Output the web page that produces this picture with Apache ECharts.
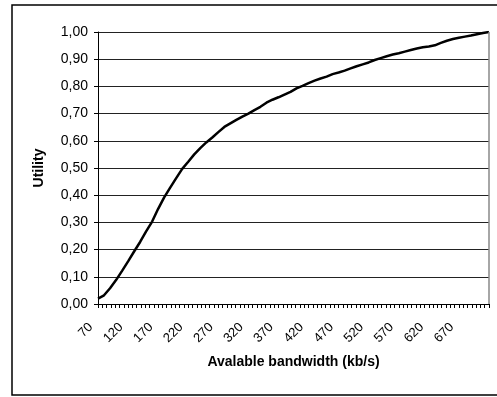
<!DOCTYPE html>
<html>
<head>
<meta charset="utf-8">
<script src="https://cdn.jsdelivr.net/npm/echarts@6/dist/echarts.min.js"></script>
<style>
  html, body { margin: 0; padding: 0; background: #fff; }
  #chart { width: 497px; height: 397px; }
</style>
</head>
<body>
<div id="chart"></div>
<script>
// Available bandwidth (kb/s) and the utility reached at that bandwidth
const bandwidth = [70, 80, 90, 100, 110, 120, 130, 140, 150, 160, 170, 180, 190, 200, 210,
  220, 230, 240, 250, 260, 270, 280, 290, 300, 310, 320, 330, 340, 350, 360, 370, 380,
  390, 400, 410, 420, 430, 440, 450, 460, 470, 480, 490, 500, 510, 520, 530, 540, 550,
  560, 570, 580, 590, 600, 610, 620, 630, 640, 650, 660, 670, 680, 690, 700, 710, 720];
const utility = [0.020, 0.032, 0.058, 0.088, 0.122, 0.157, 0.193, 0.228, 0.267, 0.303,
  0.350, 0.392, 0.428, 0.463, 0.497, 0.523, 0.550, 0.573, 0.594, 0.612, 0.632, 0.651,
  0.664, 0.677, 0.689, 0.700, 0.713, 0.725, 0.740, 0.751, 0.760, 0.770, 0.780, 0.793,
  0.802, 0.812, 0.821, 0.829, 0.836, 0.845, 0.851, 0.858, 0.866, 0.874, 0.881, 0.888,
  0.897, 0.904, 0.911, 0.917, 0.922, 0.928, 0.934, 0.939, 0.944, 0.947, 0.951, 0.960,
  0.968, 0.974, 0.979, 0.983, 0.987, 0.992, 0.996, 1.000];

// Tick labels along the bandwidth axis
const xLabels = [70, 120, 170, 220, 270, 320, 370, 420, 470, 520, 570, 620, 670];
// Small tick marks: seven per labelled step
const xTicks = [];
for (let i = 0; i <= 91; i++) xTicks.push(70 + i * 50 / 7);

const xTitle = 'Avalable bandwidth (kb/s)';
const yTitle = 'Utility';

const chart = echarts.init(document.getElementById('chart'), null, { renderer: 'canvas' });
const font = 'Liberation Sans, Arial, sans-serif';

chart.setOption({
  animation: false,
  backgroundColor: '#fff',
  graphic: [{
    type: 'rect',
    shape: { x: 12, y: 5, width: 490, height: 390 },
    style: { fill: 'none', stroke: '#000', lineWidth: 1.5 },
    z: 0
  }],
  grid: { left: 98, top: 32, right: 8, bottom: 93, containLabel: false,
    show: false },
  xAxis: {
    type: 'value',
    min: 70,
    max: 720,
    name: xTitle,
    nameLocation: 'middle',
    nameGap: 51,
    nameTextStyle: { fontFamily: font, fontSize: 14, fontWeight: 'bold', color: '#000' },
    axisLine: { show: true, onZero: false, lineStyle: { color: '#000', width: 1 } },
    axisTick: { show: true, length: 4, customValues: xTicks,
      lineStyle: { color: '#000', width: 1 } },
    axisLabel: { customValues: xLabels, rotate: 45, margin: 14, padding: [0, 10, 0, 0],
      fontFamily: font, fontSize: 13, color: '#000' },
    splitLine: { show: false }
  },
  yAxis: {
    type: 'value',
    min: 0,
    max: 1,
    interval: 0.1,
    name: yTitle,
    nameLocation: 'middle',
    nameGap: 52,
    nameRotate: 90,
    nameTextStyle: { fontFamily: font, fontSize: 14, fontWeight: 'bold', color: '#000' },
    axisLine: { show: true, lineStyle: { color: '#000', width: 1 } },
    axisTick: { show: true, length: 4, lineStyle: { color: '#000', width: 1 } },
    axisLabel: { margin: 10, fontFamily: font, fontSize: 14, color: '#000',
      formatter: v => v.toFixed(2).replace('.', ',') },
    splitLine: { show: true, lineStyle: { color: '#222', width: 1 } }
  },
  series: [{
    type: 'line',
    data: bandwidth.map((b, i) => [b, utility[i]]),
    showSymbol: false,
    lineStyle: { color: '#000', width: 2.5 },
    markLine: {
      silent: true, symbol: 'none', label: { show: false },
      lineStyle: { color: '#888', width: 1.5, type: 'solid' },
      data: [{ xAxis: 720 }]
    }
  }]
});
</script>
</body>
</html>
